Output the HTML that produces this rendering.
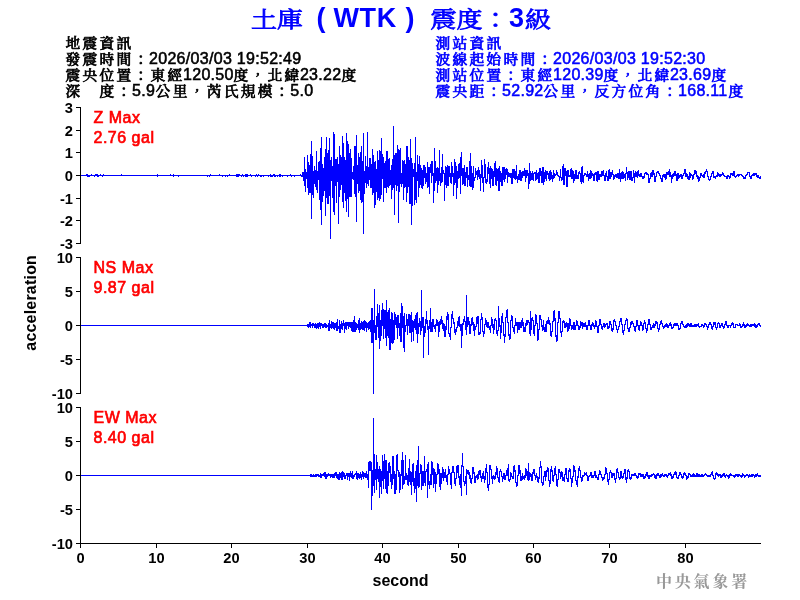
<!DOCTYPE html>
<html><head><meta charset="utf-8"><title>WTK</title><style>
html,body{margin:0;padding:0;background:#fff;width:800px;height:600px;overflow:hidden}
svg{display:block;will-change:transform}
.lt{font-family:"Liberation Sans", Arial, sans-serif;font-weight:normal;font-size:16px;letter-spacing:0.3px;stroke-width:0.55px}
.cj{font-family:"Liberation Sans", "Noto Serif CJK TC", "Noto Serif CJK SC", serif;font-weight:normal;font-size:16px;stroke-width:0.85px}
.tlt{font-family:"Liberation Sans", Arial, sans-serif;font-weight:bold;font-size:27px}
.tcj{font-family:"Liberation Sans", "Noto Serif CJK TC", "Noto Serif CJK SC", serif;font-weight:normal;font-size:26px;stroke-width:0.9px}
.tk{font-family:"Liberation Sans", Arial, sans-serif;font-weight:bold;font-size:14.67px;fill:#000}
.lb{font-family:"Liberation Sans", Arial, sans-serif;font-weight:bold;font-size:16px;fill:#000}
.rl{font-family:"Liberation Sans", Arial, sans-serif;font-weight:normal;font-size:16px;fill:#ff0000;stroke:#ff0000;stroke-width:0.65px;letter-spacing:0.5px}
.wm{font-family:"Liberation Serif", "Noto Serif CJK TC", "Noto Serif CJK SC", serif;font-weight:bold;font-size:16px;letter-spacing:2.8px}
</style></head><body>
<svg width="800" height="600" viewBox="0 0 800 600">
<rect width="800" height="600" fill="#fff"/>
<text transform="translate(251,27) scale(1,0.85)" class="tcj" fill="#0000ff" stroke="#0000ff" letter-spacing="0">土庫</text>
<text x="316.5" y="27" class="tlt" fill="#0000ff">(</text>
<text x="333.5" y="27" class="tlt" fill="#0000ff" letter-spacing="0.6">WTK</text>
<text x="405.5" y="27" class="tlt" fill="#0000ff">)</text>
<text transform="translate(430.5,27) scale(1,0.85)" class="tcj" fill="#0000ff" stroke="#0000ff" letter-spacing="0">震度：</text>
<text x="509" y="27" class="tlt" fill="#0000ff">3</text>
<text transform="translate(525,27) scale(1,0.85)" class="tcj" fill="#0000ff" stroke="#0000ff" letter-spacing="0">級</text>
<text transform="translate(65.50,47.6) scale(0.92,0.84)" class="cj" fill="#000" stroke="#000" letter-spacing="2.478">地震資訊</text>
<text transform="translate(65.50,63.6) scale(0.92,0.84)" class="cj" fill="#000" stroke="#000" letter-spacing="2.478">發震時間：</text>
<text x="149.00" y="64" class="lt" fill="#000" stroke="#000">2026/03/03 19:52:49</text>
<text transform="translate(65.50,79.6) scale(0.92,0.84)" class="cj" fill="#000" stroke="#000" letter-spacing="2.478">震央位置：東經</text>
<text x="183.00" y="80" class="lt" fill="#000" stroke="#000">120.50</text>
<text transform="translate(233.43,79.6) scale(0.92,0.84)" class="cj" fill="#000" stroke="#000" letter-spacing="2.478">度，北緯</text>
<text x="299.93" y="80" class="lt" fill="#000" stroke="#000">23.22</text>
<text transform="translate(341.46,79.6) scale(0.92,0.84)" class="cj" fill="#000" stroke="#000" letter-spacing="2.478">度</text>
<text transform="translate(65.50,95.6) scale(0.92,0.84)" class="cj" fill="#000" stroke="#000" letter-spacing="2.478">深　度：</text>
<text x="132.00" y="96" class="lt" fill="#000" stroke="#000">5.9</text>
<text transform="translate(155.74,95.6) scale(0.92,0.84)" class="cj" fill="#000" stroke="#000" letter-spacing="2.478">公里，芮氏規模：</text>
<text x="290.24" y="96" class="lt" fill="#000" stroke="#000">5.0</text>
<text transform="translate(435.50,47.6) scale(0.92,0.84)" class="cj" fill="#0000ff" stroke="#0000ff" letter-spacing="2.478">測站資訊</text>
<text transform="translate(435.50,63.6) scale(0.92,0.84)" class="cj" fill="#0000ff" stroke="#0000ff" letter-spacing="2.478">波線起始時間：</text>
<text x="553.00" y="64" class="lt" fill="#0000ff" stroke="#0000ff">2026/03/03 19:52:30</text>
<text transform="translate(435.50,79.6) scale(0.92,0.84)" class="cj" fill="#0000ff" stroke="#0000ff" letter-spacing="2.478">測站位置：東經</text>
<text x="553.00" y="80" class="lt" fill="#0000ff" stroke="#0000ff">120.39</text>
<text transform="translate(603.43,79.6) scale(0.92,0.84)" class="cj" fill="#0000ff" stroke="#0000ff" letter-spacing="2.478">度，北緯</text>
<text x="669.93" y="80" class="lt" fill="#0000ff" stroke="#0000ff">23.69</text>
<text transform="translate(711.46,79.6) scale(0.92,0.84)" class="cj" fill="#0000ff" stroke="#0000ff" letter-spacing="2.478">度</text>
<text transform="translate(435.50,95.6) scale(0.92,0.84)" class="cj" fill="#0000ff" stroke="#0000ff" letter-spacing="2.478">震央距：</text>
<text x="502.00" y="96" class="lt" fill="#0000ff" stroke="#0000ff">52.92</text>
<text transform="translate(543.53,95.6) scale(0.92,0.84)" class="cj" fill="#0000ff" stroke="#0000ff" letter-spacing="2.478">公里，反方位角：</text>
<text x="678.03" y="96" class="lt" fill="#0000ff" stroke="#0000ff">168.11</text>
<text transform="translate(728.46,95.6) scale(0.92,0.84)" class="cj" fill="#0000ff" stroke="#0000ff" letter-spacing="2.478">度</text>
<path d="M80.5 175V176M81.5 175V176M82.5 175V176M83.5 175V176M84.5 175V176M85.5 175V176M86.5 174V176M87.5 174V177M88.5 175V177M89.5 175V177M90.5 175V176M91.5 174V176M92.5 175V176M93.5 175V176M94.5 175V177M95.5 174V176M96.5 174V176M97.5 174V177M98.5 175V177M99.5 175V176M100.5 174V176M101.5 175V176M102.5 175V177M103.5 174V176M104.5 175V176M105.5 175V176M106.5 175V176M107.5 175V176M108.5 175V176M109.5 175V176M110.5 175V176M111.5 175V176M112.5 175V176M113.5 175V176M114.5 175V176M115.5 175V176M116.5 175V176M117.5 175V176M118.5 175V176M119.5 175V176M120.5 175V176M121.5 174V176M122.5 175V176M123.5 175V176M124.5 175V176M125.5 175V176M126.5 175V176M127.5 175V176M128.5 175V176M129.5 175V176M130.5 175V176M131.5 175V176M132.5 175V176M133.5 175V176M134.5 175V176M135.5 175V176M136.5 175V176M137.5 175V176M138.5 175V176M139.5 175V176M140.5 175V176M141.5 175V176M142.5 175V176M143.5 175V176M144.5 175V176M145.5 175V176M146.5 175V176M147.5 175V176M148.5 175V176M149.5 175V176M150.5 175V176M151.5 175V176M152.5 175V176M153.5 175V176M154.5 175V176M155.5 175V176M156.5 175V176M157.5 174V177M158.5 175V176M159.5 175V176M160.5 175V176M161.5 175V176M162.5 175V176M163.5 175V176M164.5 175V176M165.5 175V176M166.5 175V176M167.5 175V176M168.5 175V176M169.5 175V176M170.5 174V176M171.5 175V176M172.5 175V176M173.5 174V177M174.5 175V176M175.5 175V176M176.5 175V176M177.5 175V176M178.5 175V177M179.5 175V176M180.5 175V176M181.5 175V176M182.5 175V176M183.5 175V176M184.5 175V176M185.5 175V176M186.5 175V176M187.5 175V176M188.5 175V176M189.5 175V176M190.5 175V176M191.5 175V176M192.5 175V176M193.5 175V176M194.5 175V176M195.5 175V176M196.5 175V176M197.5 175V176M198.5 175V176M199.5 175V176M200.5 175V176M201.5 175V176M202.5 175V176M203.5 175V176M204.5 175V176M205.5 175V176M206.5 175V176M207.5 175V177M208.5 175V176M209.5 175V177M210.5 174V176M211.5 175V176M212.5 175V176M213.5 175V176M214.5 175V176M215.5 175V176M216.5 175V176M217.5 175V176M218.5 175V176M219.5 174V176M220.5 175V176M221.5 175V176M222.5 175V177M223.5 175V176M224.5 175V176M225.5 175V177M226.5 175V176M227.5 175V177M228.5 175V176M229.5 174V176M230.5 175V176M231.5 175V176M232.5 175V176M233.5 175V176M234.5 175V176M235.5 175V176M236.5 174V177M237.5 174V177M238.5 174V177M239.5 174V176M240.5 175V176M241.5 175V177M242.5 174V176M243.5 175V177M244.5 175V176M245.5 174V177M246.5 174V177M247.5 174V177M248.5 175V176M249.5 175V176M250.5 174V176M251.5 175V177M252.5 175V176M253.5 175V176M254.5 175V176M255.5 175V177M256.5 174V176M257.5 175V177M258.5 174V176M259.5 175V176M260.5 175V177M261.5 175V177M262.5 175V176M263.5 175V177M264.5 175V176M265.5 175V176M266.5 175V176M267.5 175V176M268.5 175V177M269.5 175V176M270.5 174V177M271.5 175V177M272.5 175V177M273.5 174V176M274.5 174V177M275.5 175V177M276.5 175V176M277.5 175V177M278.5 175V176M279.5 174V177M280.5 174V177M281.5 175V176M282.5 175V177M283.5 175V176M284.5 175V176M285.5 175V176M286.5 175V176M287.5 175V177M288.5 175V176M289.5 175V176M290.5 174V176M291.5 175V177M292.5 175V176M293.5 175V176M294.5 175V177M295.5 175V176M296.5 175V176M297.5 175V176M298.5 175V176M299.5 175V176M300.5 174V176M301.5 175V177M302.5 172V177M303.5 172V181M304.5 157V186M305.5 169V192M306.5 172V179M307.5 155V188M308.5 162V195M309.5 165V193M310.5 154V193M311.5 141V219M312.5 156V195M313.5 171V198M314.5 166V184M315.5 170V187M316.5 151V190M317.5 171V193M318.5 162V180M319.5 161V200M320.5 148V210M321.5 137V225M322.5 164V202M323.5 168V196M324.5 157V191M325.5 149V216M326.5 137V198M327.5 153V204M328.5 150V204M329.5 138V196M330.5 160V239M331.5 157V181M332.5 166V198M333.5 132V212M334.5 134V215M335.5 159V186M336.5 159V203M337.5 157V182M338.5 164V224M339.5 146V197M340.5 155V190M341.5 157V185M342.5 136V202M343.5 143V208M344.5 157V193M345.5 160V201M346.5 133V212M347.5 141V199M348.5 144V217M349.5 153V197M350.5 149V197M351.5 158V197M352.5 172V179M353.5 166V180M354.5 146V194M355.5 146V197M356.5 135V222M357.5 165V184M358.5 153V193M359.5 157V191M360.5 152V200M361.5 146V203M362.5 161V202M363.5 133V234M364.5 171V194M365.5 156V183M366.5 166V188M367.5 132V184M368.5 167V186M369.5 158V180M370.5 158V188M371.5 164V188M372.5 149V195M373.5 155V193M374.5 162V208M375.5 161V205M376.5 169V192M377.5 151V200M378.5 160V198M379.5 150V201M380.5 151V199M381.5 138V195M382.5 154V179M383.5 157V202M384.5 163V188M385.5 161V188M386.5 151V193M387.5 151V187M388.5 159V188M389.5 158V186M390.5 170V185M391.5 165V199M392.5 159V190M393.5 126V188M394.5 155V215M395.5 153V185M396.5 153V191M397.5 145V186M398.5 149V223M399.5 150V192M400.5 148V184M401.5 173V187M402.5 160V184M403.5 161V200M404.5 160V188M405.5 164V187M406.5 146V202M407.5 146V193M408.5 157V187M409.5 160V204M410.5 139V204M411.5 158V225M412.5 163V206M413.5 169V177M414.5 163V205M415.5 137V200M416.5 172V203M417.5 155V181M418.5 164V197M419.5 156V188M420.5 165V185M421.5 168V188M422.5 170V189M423.5 165V186M424.5 165V178M425.5 167V184M426.5 173V182M427.5 162V188M428.5 167V187M429.5 167V194M430.5 164V173M431.5 161V183M432.5 161V176M433.5 173V203M434.5 148V191M435.5 161V183M436.5 168V181M437.5 167V193M438.5 168V185M439.5 150V181M440.5 173V186M441.5 167V183M442.5 154V182M443.5 170V174M444.5 173V201M445.5 166V185M446.5 167V188M447.5 165V186M448.5 166V186M449.5 166V177M450.5 173V183M451.5 162V184M452.5 166V177M453.5 173V196M454.5 159V185M455.5 162V183M456.5 166V199M457.5 171V188M458.5 164V179M459.5 163V178M460.5 157V194M461.5 152V176M462.5 168V185M463.5 168V184M464.5 165V186M465.5 172V186M466.5 167V178M467.5 167V187M468.5 175V180M469.5 161V186M470.5 153V187M471.5 166V187M472.5 173V190M473.5 166V188M474.5 177V181M475.5 168V178M476.5 171V175M477.5 170V180M478.5 167V177M479.5 170V179M480.5 174V191M481.5 160V178M482.5 165V183M483.5 177V192M484.5 159V178M485.5 164V183M486.5 179V184M487.5 167V182M488.5 162V174M489.5 168V184M490.5 166V188M491.5 168V179M492.5 169V186M493.5 171V186M494.5 163V177M495.5 161V185M496.5 168V186M497.5 169V181M498.5 168V191M499.5 166V191M500.5 171V182M501.5 173V186M502.5 167V186M503.5 167V180M504.5 167V182M505.5 169V179M506.5 168V175M507.5 169V183M508.5 172V177M509.5 173V177M510.5 173V178M511.5 173V184M512.5 169V184M513.5 169V178M514.5 169V179M515.5 171V180M516.5 165V179M517.5 176V183M518.5 174V180M519.5 170V180M520.5 170V181M521.5 172V181M522.5 171V178M523.5 171V176M524.5 168V176M525.5 170V182M526.5 170V178M527.5 170V176M528.5 173V189M529.5 163V184M530.5 171V181M531.5 173V180M532.5 171V180M533.5 173V181M534.5 172V174M535.5 172V181M536.5 170V180M537.5 173V179M538.5 172V183M539.5 168V183M540.5 168V176M541.5 171V183M542.5 167V183M543.5 167V185M544.5 172V182M545.5 170V179M546.5 171V181M547.5 171V175M548.5 173V179M549.5 171V181M550.5 170V180M551.5 172V179M552.5 175V182M553.5 170V179M554.5 173V178M555.5 174V176M556.5 170V175M557.5 172V176M558.5 175V177M559.5 176V181M560.5 169V178M561.5 177V181M562.5 166V180M563.5 164V185M564.5 168V185M565.5 168V176M566.5 171V187M567.5 170V187M568.5 170V177M569.5 175V177M570.5 169V177M571.5 168V179M572.5 170V179M573.5 171V183M574.5 174V181M575.5 170V179M576.5 170V179M577.5 175V179M578.5 172V179M579.5 171V174M580.5 173V182M581.5 167V184M582.5 166V182M583.5 175V183M584.5 173V176M585.5 173V175M586.5 174V177M587.5 171V177M588.5 174V181M589.5 173V179M590.5 170V179M591.5 171V178M592.5 173V176M593.5 174V181M594.5 173V181M595.5 172V175M596.5 172V181M597.5 171V182M598.5 171V180M599.5 174V180M600.5 174V177M601.5 171V177M602.5 171V176M603.5 170V176M604.5 175V181M605.5 173V181M606.5 171V177M607.5 176V181M608.5 170V181M609.5 169V179M610.5 172V179M611.5 172V177M612.5 170V175M613.5 174V180M614.5 175V179M615.5 174V177M616.5 174V178M617.5 173V178M618.5 173V179M619.5 169V179M620.5 173V182M621.5 172V179M622.5 171V179M623.5 172V179M624.5 174V178M625.5 173V181M626.5 167V174M627.5 172V180M628.5 171V178M629.5 171V180M630.5 171V180M631.5 171V181M632.5 177V181M633.5 170V178M634.5 173V183M635.5 171V177M636.5 172V177M637.5 171V178M638.5 170V176M639.5 174V177M640.5 173V177M641.5 173V177M642.5 176V179M643.5 176V179M644.5 173V178M645.5 172V174M646.5 172V175M647.5 173V175M648.5 174V183M649.5 178V183M650.5 173V179M651.5 172V177M652.5 170V177M653.5 170V175M654.5 173V182M655.5 176V182M656.5 172V177M657.5 171V173M658.5 171V174M659.5 173V176M660.5 175V179M661.5 178V182M662.5 175V182M663.5 174V177M664.5 174V178M665.5 174V180M666.5 172V179M667.5 172V175M668.5 171V175M669.5 169V177M670.5 172V177M671.5 175V183M672.5 174V179M673.5 173V177M674.5 171V176M675.5 171V176M676.5 174V181M677.5 173V181M678.5 173V179M679.5 175V178M680.5 174V177M681.5 174V179M682.5 175V179M683.5 173V176M684.5 169V174M685.5 169V177M686.5 173V177M687.5 174V179M688.5 176V180M689.5 172V180M690.5 173V178M691.5 174V176M692.5 175V180M693.5 174V179M694.5 170V175M695.5 170V174M696.5 171V177M697.5 175V179M698.5 176V182M699.5 177V181M700.5 173V178M701.5 173V176M702.5 175V177M703.5 174V178M704.5 172V178M705.5 171V174M706.5 169V172M707.5 171V177M708.5 176V180M709.5 179V181M710.5 176V180M711.5 173V177M712.5 171V174M713.5 171V178M714.5 176V178M715.5 176V179M716.5 175V177M717.5 172V177M718.5 173V176M719.5 174V177M720.5 174V177M721.5 174V176M722.5 172V175M723.5 173V176M724.5 175V177M725.5 176V177M726.5 176V179M727.5 175V179M728.5 175V177M729.5 176V179M730.5 173V178M731.5 173V175M732.5 173V176M733.5 171V176M734.5 171V177M735.5 176V178M736.5 175V177M737.5 174V176M738.5 174V177M739.5 174V176M740.5 174V175M741.5 174V176M742.5 175V177M743.5 176V179M744.5 177V179M745.5 175V179M746.5 174V176M747.5 172V175M748.5 172V173M749.5 172V177M750.5 176V179M751.5 175V179M752.5 174V176M753.5 173V176M754.5 173V176M755.5 173V175M756.5 173V177M757.5 175V178M758.5 175V178M759.5 177V179M760.5 176V179" stroke="#0000ff" stroke-width="1" fill="none" shape-rendering="crispEdges"/>
<path d="M80.5 325V326M81.5 325V326M82.5 325V326M83.5 325V326M84.5 325V326M85.5 325V326M86.5 325V326M87.5 325V326M88.5 325V326M89.5 325V326M90.5 325V326M91.5 325V326M92.5 325V326M93.5 325V326M94.5 325V326M95.5 325V326M96.5 325V326M97.5 325V326M98.5 325V326M99.5 325V326M100.5 325V326M101.5 325V326M102.5 325V326M103.5 325V326M104.5 325V326M105.5 325V326M106.5 325V326M107.5 325V326M108.5 325V326M109.5 325V326M110.5 325V326M111.5 325V326M112.5 325V326M113.5 325V326M114.5 325V326M115.5 325V326M116.5 325V326M117.5 325V326M118.5 325V326M119.5 325V326M120.5 325V326M121.5 325V326M122.5 325V326M123.5 325V326M124.5 325V326M125.5 325V326M126.5 325V326M127.5 325V326M128.5 325V326M129.5 325V326M130.5 325V326M131.5 325V326M132.5 325V326M133.5 325V326M134.5 325V326M135.5 325V326M136.5 325V326M137.5 325V326M138.5 325V326M139.5 325V326M140.5 325V326M141.5 325V326M142.5 325V326M143.5 325V326M144.5 325V326M145.5 325V326M146.5 325V326M147.5 325V326M148.5 325V326M149.5 325V326M150.5 325V326M151.5 325V326M152.5 325V326M153.5 325V326M154.5 325V326M155.5 325V326M156.5 325V326M157.5 325V326M158.5 325V326M159.5 325V326M160.5 325V326M161.5 325V326M162.5 325V326M163.5 325V326M164.5 325V326M165.5 325V326M166.5 325V326M167.5 325V326M168.5 325V326M169.5 325V326M170.5 325V326M171.5 325V326M172.5 325V326M173.5 325V326M174.5 325V326M175.5 325V326M176.5 325V326M177.5 325V326M178.5 325V326M179.5 325V326M180.5 325V326M181.5 325V326M182.5 325V326M183.5 325V326M184.5 325V326M185.5 325V326M186.5 325V326M187.5 325V326M188.5 325V326M189.5 325V326M190.5 325V326M191.5 325V326M192.5 325V326M193.5 325V326M194.5 325V326M195.5 325V326M196.5 325V326M197.5 325V326M198.5 325V326M199.5 325V326M200.5 325V326M201.5 325V326M202.5 325V326M203.5 325V326M204.5 325V326M205.5 325V326M206.5 325V326M207.5 325V326M208.5 325V326M209.5 325V326M210.5 325V326M211.5 325V326M212.5 325V326M213.5 325V326M214.5 325V326M215.5 325V326M216.5 325V326M217.5 325V326M218.5 325V326M219.5 325V326M220.5 325V326M221.5 325V326M222.5 325V326M223.5 325V326M224.5 325V326M225.5 325V326M226.5 325V326M227.5 325V326M228.5 325V326M229.5 325V326M230.5 325V326M231.5 325V326M232.5 325V326M233.5 325V326M234.5 325V326M235.5 325V326M236.5 325V326M237.5 325V326M238.5 325V326M239.5 325V326M240.5 325V326M241.5 325V326M242.5 325V326M243.5 325V326M244.5 325V326M245.5 325V326M246.5 325V326M247.5 325V326M248.5 325V326M249.5 325V326M250.5 325V326M251.5 325V326M252.5 325V326M253.5 325V326M254.5 325V326M255.5 325V326M256.5 325V326M257.5 325V326M258.5 325V326M259.5 325V326M260.5 325V326M261.5 325V326M262.5 325V326M263.5 325V326M264.5 325V326M265.5 325V326M266.5 325V326M267.5 325V326M268.5 325V326M269.5 325V326M270.5 325V326M271.5 325V326M272.5 325V326M273.5 325V326M274.5 325V326M275.5 325V326M276.5 325V326M277.5 325V326M278.5 325V326M279.5 325V326M280.5 325V326M281.5 325V326M282.5 325V326M283.5 325V326M284.5 325V326M285.5 325V326M286.5 325V326M287.5 325V326M288.5 325V326M289.5 325V326M290.5 325V326M291.5 325V326M292.5 325V326M293.5 325V326M294.5 325V326M295.5 325V326M296.5 325V326M297.5 325V326M298.5 325V326M299.5 325V326M300.5 325V326M301.5 325V326M302.5 325V326M303.5 325V326M304.5 325V326M305.5 325V326M306.5 325V326M307.5 324V327M308.5 324V328M309.5 322V327M310.5 322V328M311.5 324V326M312.5 323V328M313.5 323V326M314.5 324V328M315.5 323V328M316.5 324V329M317.5 323V328M318.5 323V329M319.5 322V327M320.5 323V329M321.5 323V326M322.5 324V328M323.5 324V328M324.5 323V327M325.5 323V328M326.5 324V328M327.5 325V327M328.5 323V331M329.5 320V331M330.5 324V328M331.5 321V329M332.5 322V328M333.5 322V329M334.5 323V330M335.5 323V328M336.5 322V331M337.5 319V331M338.5 326V329M339.5 320V333M340.5 324V333M341.5 321V329M342.5 323V330M343.5 320V326M344.5 323V333M345.5 322V329M346.5 322V330M347.5 322V326M348.5 322V329M349.5 322V327M350.5 322V328M351.5 322V331M352.5 322V332M353.5 320V332M354.5 316V332M355.5 322V332M356.5 323V330M357.5 324V328M358.5 320V330M359.5 318V333M360.5 323V330M361.5 321V329M362.5 322V330M363.5 321V330M364.5 320V331M365.5 321V328M366.5 322V332M367.5 323V328M368.5 322V330M369.5 321V329M370.5 320V332M371.5 308V343M372.5 308V343M373.5 320V394M374.5 289V333M375.5 325V340M376.5 316V340M377.5 304V327M378.5 313V338M379.5 305V349M380.5 320V341M381.5 310V336M382.5 303V326M383.5 309V339M384.5 310V329M385.5 310V338M386.5 300V346M387.5 312V336M388.5 310V338M389.5 308V350M390.5 319V350M391.5 312V343M392.5 313V344M393.5 320V343M394.5 312V340M395.5 314V325M396.5 317V328M397.5 315V339M398.5 315V328M399.5 323V336M400.5 313V342M401.5 303V342M402.5 306V328M403.5 316V348M404.5 313V352M405.5 325V332M406.5 314V326M407.5 319V335M408.5 314V326M409.5 314V333M410.5 315V333M411.5 312V342M412.5 320V332M413.5 321V341M414.5 319V328M415.5 315V330M416.5 313V334M417.5 312V343M418.5 323V334M419.5 318V327M420.5 321V335M421.5 290V331M422.5 317V328M423.5 317V358M424.5 326V337M425.5 319V333M426.5 311V324M427.5 320V330M428.5 326V355M429.5 320V329M430.5 308V332M431.5 322V332M432.5 319V332M433.5 319V327M434.5 325V329M435.5 324V332M436.5 319V326M437.5 320V326M438.5 322V337M439.5 321V332M440.5 319V325M441.5 316V324M442.5 320V329M443.5 323V331M444.5 324V337M445.5 326V337M446.5 316V330M447.5 312V320M448.5 314V334M449.5 333V337M450.5 327V340M451.5 314V328M452.5 311V319M453.5 318V324M454.5 322V333M455.5 329V335M456.5 327V332M457.5 321V328M458.5 317V326M459.5 316V327M460.5 324V331M461.5 324V348M462.5 323V336M463.5 319V325M464.5 316V322M465.5 321V330M466.5 295V335M467.5 317V327M468.5 317V325M469.5 321V334M470.5 324V334M471.5 318V326M472.5 317V325M473.5 322V331M474.5 324V336M475.5 326V330M476.5 317V327M477.5 316V324M478.5 316V335M479.5 332V335M480.5 319V334M481.5 313V320M482.5 317V332M483.5 331V337M484.5 324V334M485.5 318V325M486.5 320V327M487.5 322V328M488.5 322V328M489.5 326V330M490.5 325V333M491.5 317V326M492.5 319V328M493.5 324V334M494.5 319V330M495.5 318V321M496.5 320V334M497.5 330V336M498.5 306V331M499.5 318V327M500.5 325V339M501.5 316V333M502.5 313V323M503.5 322V336M504.5 334V343M505.5 317V337M506.5 310V318M507.5 309V323M508.5 322V336M509.5 334V340M510.5 320V339M511.5 315V321M512.5 316V328M513.5 327V332M514.5 325V334M515.5 318V326M516.5 322V326M517.5 322V333M518.5 322V330M519.5 322V330M520.5 322V328M521.5 320V328M522.5 318V326M523.5 322V332M524.5 327V332M525.5 323V332M526.5 320V326M527.5 320V325M528.5 320V323M529.5 322V334M530.5 311V336M531.5 318V330M532.5 317V321M533.5 320V334M534.5 325V336M535.5 314V326M536.5 315V324M537.5 323V341M538.5 329V340M539.5 315V330M540.5 315V320M541.5 319V327M542.5 325V331M543.5 320V330M544.5 327V332M545.5 324V332M546.5 321V332M547.5 320V324M548.5 317V324M549.5 320V325M550.5 323V336M551.5 331V337M552.5 321V332M553.5 311V322M554.5 310V321M555.5 318V337M556.5 335V342M557.5 322V341M558.5 311V323M559.5 311V319M560.5 318V333M561.5 331V337M562.5 321V332M563.5 320V323M564.5 321V328M565.5 323V328M566.5 322V327M567.5 323V332M568.5 323V331M569.5 318V329M570.5 319V326M571.5 325V330M572.5 325V329M573.5 322V330M574.5 322V330M575.5 325V330M576.5 320V326M577.5 321V326M578.5 325V330M579.5 326V330M580.5 321V328M581.5 322V326M582.5 322V329M583.5 323V327M584.5 323V327M585.5 322V327M586.5 325V330M587.5 325V330M588.5 320V326M589.5 320V326M590.5 325V330M591.5 324V330M592.5 322V326M593.5 323V327M594.5 325V329M595.5 320V327M596.5 321V327M597.5 326V333M598.5 325V333M599.5 319V326M600.5 319V325M601.5 324V329M602.5 326V330M603.5 323V327M604.5 323V328M605.5 324V327M606.5 323V325M607.5 323V329M608.5 326V329M609.5 321V328M610.5 321V325M611.5 324V331M612.5 328V332M613.5 320V330M614.5 319V322M615.5 321V326M616.5 325V330M617.5 329V333M618.5 326V330M619.5 321V327M620.5 318V322M621.5 318V325M622.5 324V333M623.5 330V335M624.5 324V331M625.5 320V325M626.5 318V321M627.5 319V329M628.5 328V332M629.5 327V332M630.5 322V328M631.5 321V325M632.5 321V324M633.5 323V327M634.5 326V331M635.5 326V332M636.5 320V327M637.5 320V326M638.5 325V330M639.5 325V331M640.5 321V326M641.5 322V326M642.5 325V331M643.5 323V330M644.5 320V324M645.5 322V329M646.5 328V333M647.5 324V331M648.5 319V325M649.5 319V325M650.5 324V330M651.5 327V330M652.5 325V328M653.5 323V328M654.5 324V328M655.5 321V326M656.5 321V324M657.5 322V329M658.5 328V332M659.5 324V330M660.5 321V325M661.5 320V324M662.5 323V327M663.5 326V329M664.5 325V328M665.5 324V327M666.5 323V327M667.5 324V328M668.5 325V328M669.5 323V326M670.5 322V326M671.5 324V329M672.5 327V329M673.5 324V328M674.5 323V326M675.5 323V326M676.5 323V326M677.5 323V326M678.5 325V330M679.5 328V330M680.5 323V329M681.5 321V324M682.5 321V325M683.5 324V327M684.5 326V328M685.5 325V328M686.5 324V328M687.5 323V327M688.5 323V326M689.5 324V327M690.5 323V327M691.5 323V327M692.5 325V327M693.5 325V327M694.5 324V327M695.5 324V327M696.5 324V327M697.5 324V326M698.5 323V327M699.5 326V328M700.5 326V327M701.5 324V327M702.5 324V326M703.5 325V328M704.5 323V327M705.5 323V325M706.5 324V327M707.5 326V330M708.5 324V328M709.5 322V325M710.5 322V325M711.5 324V329M712.5 326V330M713.5 322V327M714.5 322V325M715.5 322V328M716.5 327V330M717.5 323V328M718.5 322V324M719.5 323V328M720.5 325V328M721.5 323V326M722.5 323V327M723.5 326V329M724.5 324V328M725.5 321V325M726.5 321V326M727.5 325V328M728.5 325V328M729.5 325V326M730.5 325V328M731.5 323V326M732.5 322V325M733.5 323V328M734.5 327V328M735.5 324V328M736.5 324V325M737.5 324V326M738.5 325V326M739.5 323V326M740.5 324V328M741.5 326V328M742.5 324V327M743.5 322V326M744.5 324V328M745.5 325V328M746.5 324V327M747.5 323V326M748.5 324V326M749.5 325V327M750.5 324V327M751.5 324V327M752.5 324V326M753.5 324V326M754.5 323V327M755.5 324V328M756.5 325V328M757.5 324V327M758.5 323V325M759.5 323V326M760.5 325V327" stroke="#0000ff" stroke-width="1" fill="none" shape-rendering="crispEdges"/>
<path d="M80.5 475V476M81.5 475V476M82.5 475V476M83.5 475V476M84.5 475V476M85.5 475V476M86.5 475V476M87.5 475V476M88.5 475V476M89.5 475V476M90.5 475V476M91.5 475V476M92.5 475V476M93.5 475V476M94.5 475V476M95.5 475V476M96.5 475V476M97.5 475V476M98.5 475V476M99.5 475V476M100.5 475V476M101.5 475V476M102.5 475V476M103.5 475V476M104.5 475V476M105.5 475V476M106.5 475V476M107.5 475V476M108.5 475V476M109.5 475V476M110.5 475V476M111.5 475V476M112.5 475V476M113.5 475V476M114.5 475V476M115.5 475V476M116.5 475V476M117.5 475V476M118.5 475V476M119.5 475V476M120.5 475V476M121.5 475V476M122.5 475V476M123.5 475V476M124.5 475V476M125.5 475V476M126.5 475V476M127.5 475V476M128.5 475V476M129.5 475V476M130.5 475V476M131.5 475V476M132.5 475V476M133.5 475V476M134.5 475V476M135.5 475V476M136.5 475V476M137.5 475V476M138.5 475V476M139.5 475V476M140.5 475V476M141.5 475V476M142.5 475V476M143.5 475V476M144.5 475V476M145.5 475V476M146.5 475V476M147.5 475V476M148.5 475V476M149.5 475V476M150.5 475V476M151.5 475V476M152.5 475V476M153.5 475V476M154.5 475V476M155.5 475V476M156.5 475V476M157.5 475V476M158.5 475V476M159.5 475V476M160.5 475V476M161.5 475V476M162.5 475V476M163.5 475V476M164.5 475V476M165.5 475V476M166.5 475V476M167.5 475V476M168.5 475V476M169.5 475V476M170.5 475V476M171.5 475V476M172.5 475V476M173.5 475V476M174.5 475V476M175.5 475V476M176.5 475V476M177.5 475V476M178.5 475V476M179.5 475V476M180.5 475V476M181.5 475V476M182.5 475V476M183.5 475V476M184.5 475V476M185.5 475V476M186.5 475V476M187.5 475V476M188.5 475V476M189.5 475V476M190.5 475V476M191.5 475V476M192.5 475V476M193.5 475V476M194.5 475V476M195.5 475V476M196.5 475V476M197.5 475V476M198.5 475V476M199.5 475V476M200.5 475V476M201.5 475V476M202.5 475V476M203.5 475V476M204.5 475V476M205.5 475V476M206.5 475V476M207.5 475V476M208.5 475V476M209.5 475V476M210.5 475V476M211.5 475V476M212.5 475V476M213.5 475V476M214.5 475V476M215.5 475V476M216.5 475V476M217.5 475V476M218.5 475V476M219.5 475V476M220.5 475V476M221.5 475V476M222.5 475V476M223.5 475V476M224.5 475V476M225.5 475V476M226.5 475V476M227.5 475V476M228.5 475V476M229.5 475V476M230.5 475V476M231.5 475V476M232.5 475V476M233.5 475V476M234.5 475V476M235.5 475V476M236.5 475V476M237.5 475V476M238.5 475V476M239.5 475V476M240.5 475V476M241.5 475V476M242.5 475V476M243.5 475V476M244.5 475V476M245.5 475V476M246.5 475V476M247.5 475V476M248.5 475V476M249.5 475V476M250.5 475V476M251.5 475V476M252.5 475V476M253.5 475V476M254.5 475V476M255.5 475V476M256.5 475V476M257.5 475V476M258.5 475V476M259.5 475V476M260.5 475V476M261.5 475V476M262.5 475V476M263.5 475V476M264.5 475V476M265.5 475V476M266.5 475V476M267.5 475V476M268.5 475V476M269.5 475V476M270.5 475V476M271.5 475V476M272.5 475V476M273.5 475V476M274.5 475V476M275.5 475V476M276.5 475V476M277.5 475V476M278.5 475V476M279.5 475V476M280.5 475V476M281.5 475V476M282.5 475V476M283.5 475V476M284.5 475V476M285.5 475V476M286.5 475V476M287.5 475V476M288.5 475V476M289.5 475V476M290.5 475V476M291.5 475V476M292.5 475V476M293.5 475V476M294.5 475V476M295.5 475V476M296.5 475V476M297.5 475V476M298.5 475V476M299.5 475V476M300.5 475V476M301.5 475V476M302.5 475V476M303.5 475V476M304.5 475V476M305.5 475V476M306.5 475V476M307.5 475V476M308.5 475V476M309.5 475V476M310.5 474V477M311.5 474V477M312.5 475V477M313.5 474V477M314.5 475V477M315.5 474V477M316.5 474V477M317.5 474V476M318.5 474V477M319.5 475V477M320.5 473V478M321.5 474V478M322.5 474V476M323.5 473V476M324.5 472V477M325.5 472V479M326.5 474V479M327.5 474V477M328.5 473V476M329.5 474V476M330.5 474V478M331.5 474V477M332.5 474V478M333.5 474V478M334.5 473V478M335.5 472V476M336.5 472V478M337.5 474V479M338.5 474V480M339.5 472V480M340.5 473V478M341.5 472V480M342.5 471V480M343.5 472V477M344.5 473V479M345.5 475V479M346.5 473V476M347.5 473V480M348.5 473V477M349.5 473V481M350.5 471V477M351.5 473V478M352.5 471V479M353.5 475V479M354.5 474V477M355.5 473V475M356.5 471V479M357.5 473V480M358.5 473V478M359.5 474V479M360.5 472V478M361.5 474V480M362.5 471V477M363.5 472V479M364.5 473V477M365.5 473V478M366.5 471V478M367.5 474V480M368.5 462V488M369.5 461V471M370.5 461V471M371.5 462V510M372.5 470V496M373.5 418V486M374.5 454V493M375.5 469V480M376.5 455V490M377.5 462V479M378.5 469V482M379.5 466V498M380.5 469V487M381.5 471V494M382.5 455V481M383.5 461V489M384.5 454V479M385.5 460V489M386.5 460V493M387.5 471V494M388.5 463V486M389.5 462V473M390.5 466V482M391.5 474V489M392.5 456V485M393.5 456V479M394.5 471V494M395.5 474V494M396.5 455V490M397.5 454V471M398.5 470V477M399.5 472V493M400.5 474V490M401.5 460V476M402.5 452V489M403.5 460V485M404.5 476V484M405.5 455V480M406.5 473V480M407.5 475V485M408.5 468V486M409.5 459V482M410.5 471V485M411.5 472V495M412.5 464V482M413.5 463V486M414.5 478V493M415.5 471V489M416.5 465V502M417.5 460V486M418.5 446V488M419.5 473V487M420.5 464V474M421.5 465V490M422.5 471V486M423.5 471V486M424.5 456V483M425.5 471V486M426.5 469V472M427.5 464V498M428.5 462V485M429.5 481V489M430.5 474V485M431.5 461V485M432.5 462V475M433.5 468V488M434.5 469V484M435.5 472V492M436.5 474V484M437.5 463V475M438.5 464V474M439.5 469V487M440.5 473V490M441.5 473V484M442.5 467V478M443.5 469V481M444.5 472V478M445.5 469V478M446.5 475V482M447.5 474V485M448.5 466V475M449.5 469V474M450.5 473V485M451.5 472V489M452.5 466V473M453.5 466V473M454.5 472V484M455.5 478V486M456.5 466V479M457.5 465V473M458.5 465V478M459.5 476V485M460.5 474V488M461.5 465V496M462.5 453V467M463.5 466V482M464.5 481V486M465.5 476V484M466.5 469V495M467.5 470V474M468.5 470V475M469.5 472V479M470.5 475V483M471.5 478V484M472.5 467V479M473.5 467V474M474.5 472V483M475.5 476V483M476.5 475V478M477.5 474V480M478.5 471V479M479.5 470V475M480.5 470V478M481.5 476V482M482.5 473V479M483.5 471V479M484.5 476V483M485.5 468V480M486.5 464V473M487.5 472V488M488.5 484V491M489.5 465V485M490.5 465V470M491.5 469V479M492.5 476V484M493.5 475V479M494.5 476V480M495.5 472V479M496.5 466V475M497.5 468V478M498.5 477V482M499.5 471V483M500.5 469V472M501.5 471V477M502.5 476V482M503.5 473V479M504.5 473V480M505.5 475V480M506.5 470V476M507.5 468V476M508.5 464V481M509.5 479V482M510.5 472V480M511.5 473V477M512.5 476V479M513.5 466V479M514.5 465V472M515.5 470V483M516.5 482V487M517.5 475V486M518.5 465V476M519.5 465V474M520.5 470V481M521.5 476V481M522.5 473V480M523.5 476V479M524.5 475V480M525.5 468V478M526.5 469V476M527.5 471V480M528.5 463V481M529.5 472V480M530.5 473V477M531.5 474V481M532.5 472V481M533.5 469V474M534.5 469V476M535.5 475V480M536.5 473V478M537.5 476V482M538.5 477V483M539.5 467V479M540.5 461V468M541.5 466V483M542.5 482V486M543.5 476V485M544.5 471V477M545.5 471V481M546.5 470V477M547.5 467V472M548.5 468V481M549.5 480V487M550.5 469V484M551.5 466V472M552.5 470V481M553.5 475V482M554.5 468V476M555.5 466V475M556.5 474V486M557.5 479V487M558.5 469V480M559.5 469V473M560.5 472V479M561.5 471V477M562.5 472V481M563.5 477V481M564.5 474V482M565.5 468V475M566.5 468V479M567.5 478V482M568.5 470V482M569.5 468V472M570.5 469V479M571.5 478V487M572.5 476V483M573.5 465V477M574.5 466V472M575.5 470V481M576.5 480V485M577.5 476V487M578.5 468V478M579.5 466V471M580.5 470V478M581.5 477V482M582.5 475V481M583.5 475V477M584.5 472V476M585.5 473V475M586.5 472V476M587.5 475V481M588.5 476V481M589.5 475V477M590.5 472V476M591.5 472V478M592.5 475V478M593.5 475V478M594.5 471V476M595.5 471V478M596.5 475V478M597.5 477V480M598.5 474V480M599.5 470V475M600.5 471V475M601.5 474V478M602.5 477V481M603.5 477V480M604.5 474V479M605.5 467V475M606.5 468V474M607.5 473V482M608.5 479V485M609.5 472V480M610.5 470V473M611.5 472V478M612.5 473V478M613.5 473V476M614.5 473V480M615.5 478V483M616.5 469V479M617.5 468V473M618.5 472V478M619.5 477V480M620.5 471V479M621.5 471V478M622.5 476V479M623.5 473V478M624.5 469V474M625.5 469V480M626.5 477V483M627.5 470V479M628.5 469V472M629.5 471V479M630.5 477V480M631.5 474V479M632.5 474V476M633.5 474V476M634.5 473V476M635.5 473V476M636.5 475V478M637.5 476V479M638.5 473V478M639.5 473V475M640.5 473V477M641.5 474V477M642.5 474V477M643.5 474V479M644.5 476V479M645.5 474V478M646.5 472V476M647.5 472V477M648.5 475V479M649.5 475V479M650.5 475V477M651.5 474V477M652.5 474V476M653.5 473V475M654.5 474V478M655.5 475V479M656.5 474V479M657.5 473V476M658.5 473V476M659.5 475V478M660.5 474V478M661.5 474V477M662.5 473V476M663.5 475V477M664.5 474V477M665.5 474V476M666.5 474V477M667.5 475V478M668.5 473V476M669.5 473V475M670.5 472V476M671.5 474V479M672.5 476V479M673.5 474V478M674.5 472V475M675.5 471V475M676.5 472V478M677.5 477V479M678.5 475V479M679.5 472V476M680.5 472V475M681.5 474V478M682.5 476V479M683.5 473V478M684.5 472V475M685.5 473V476M686.5 475V480M687.5 476V479M688.5 473V478M689.5 473V475M690.5 474V477M691.5 475V477M692.5 474V477M693.5 473V477M694.5 474V477M695.5 475V477M696.5 473V477M697.5 473V477M698.5 474V477M699.5 474V477M700.5 475V477M701.5 474V477M702.5 474V477M703.5 475V477M704.5 474V476M705.5 473V475M706.5 474V476M707.5 475V477M708.5 475V477M709.5 475V477M710.5 474V477M711.5 472V475M712.5 471V476M713.5 475V479M714.5 478V480M715.5 473V479M716.5 472V475M717.5 473V476M718.5 474V477M719.5 474V476M720.5 474V478M721.5 475V478M722.5 474V477M723.5 473V476M724.5 473V477M725.5 475V478M726.5 474V476M727.5 475V477M728.5 475V479M729.5 474V478M730.5 473V476M731.5 474V476M732.5 475V476M733.5 475V477M734.5 475V478M735.5 474V477M736.5 474V476M737.5 474V477M738.5 474V477M739.5 474V476M740.5 475V477M741.5 475V478M742.5 473V477M743.5 474V476M744.5 475V478M745.5 475V477M746.5 474V476M747.5 474V476M748.5 475V478M749.5 474V477M750.5 475V477M751.5 474V477M752.5 474V477M753.5 474V476M754.5 475V478M755.5 474V477M756.5 474V477M757.5 473V476M758.5 475V477M759.5 475V477M760.5 475V477" stroke="#0000ff" stroke-width="1" fill="none" shape-rendering="crispEdges"/>
<rect x="80" y="107" width="1" height="137" fill="#000"/>
<rect x="76" y="107" width="4" height="1" fill="#000"/>
<text x="73" y="112.5" class="tk" text-anchor="end">3</text>
<rect x="76" y="130" width="4" height="1" fill="#000"/>
<text x="73" y="135.5" class="tk" text-anchor="end">2</text>
<rect x="76" y="152" width="4" height="1" fill="#000"/>
<text x="73" y="157.5" class="tk" text-anchor="end">1</text>
<rect x="76" y="175" width="4" height="1" fill="#000"/>
<text x="73" y="180.5" class="tk" text-anchor="end">0</text>
<rect x="76" y="198" width="4" height="1" fill="#000"/>
<text x="73" y="203.5" class="tk" text-anchor="end">-1</text>
<rect x="76" y="220" width="4" height="1" fill="#000"/>
<text x="73" y="225.5" class="tk" text-anchor="end">-2</text>
<rect x="76" y="243" width="4" height="1" fill="#000"/>
<text x="73" y="248.5" class="tk" text-anchor="end">-3</text>
<rect x="80" y="257" width="1" height="137" fill="#000"/>
<rect x="76" y="257" width="4" height="1" fill="#000"/>
<text x="73" y="262.5" class="tk" text-anchor="end">10</text>
<rect x="76" y="291" width="4" height="1" fill="#000"/>
<text x="73" y="296.5" class="tk" text-anchor="end">5</text>
<rect x="76" y="325" width="4" height="1" fill="#000"/>
<text x="73" y="330.5" class="tk" text-anchor="end">0</text>
<rect x="76" y="359" width="4" height="1" fill="#000"/>
<text x="73" y="364.5" class="tk" text-anchor="end">-5</text>
<rect x="76" y="393" width="4" height="1" fill="#000"/>
<text x="73" y="398.5" class="tk" text-anchor="end">-10</text>
<rect x="80" y="407" width="1" height="137" fill="#000"/>
<rect x="76" y="407" width="4" height="1" fill="#000"/>
<text x="73" y="412.5" class="tk" text-anchor="end">10</text>
<rect x="76" y="441" width="4" height="1" fill="#000"/>
<text x="73" y="446.5" class="tk" text-anchor="end">5</text>
<rect x="76" y="475" width="4" height="1" fill="#000"/>
<text x="73" y="480.5" class="tk" text-anchor="end">0</text>
<rect x="76" y="509" width="4" height="1" fill="#000"/>
<text x="73" y="514.5" class="tk" text-anchor="end">-5</text>
<rect x="76" y="543" width="4" height="1" fill="#000"/>
<text x="73" y="548.5" class="tk" text-anchor="end">-10</text>
<rect x="80" y="543" width="681" height="1" fill="#000"/>
<rect x="80" y="544" width="1" height="4" fill="#000"/>
<text x="80.5" y="563" class="tk" text-anchor="middle">0</text>
<rect x="156" y="544" width="1" height="4" fill="#000"/>
<text x="156.5" y="563" class="tk" text-anchor="middle">10</text>
<rect x="231" y="544" width="1" height="4" fill="#000"/>
<text x="231.5" y="563" class="tk" text-anchor="middle">20</text>
<rect x="307" y="544" width="1" height="4" fill="#000"/>
<text x="307.5" y="563" class="tk" text-anchor="middle">30</text>
<rect x="382" y="544" width="1" height="4" fill="#000"/>
<text x="382.5" y="563" class="tk" text-anchor="middle">40</text>
<rect x="458" y="544" width="1" height="4" fill="#000"/>
<text x="458.5" y="563" class="tk" text-anchor="middle">50</text>
<rect x="533" y="544" width="1" height="4" fill="#000"/>
<text x="533.5" y="563" class="tk" text-anchor="middle">60</text>
<rect x="609" y="544" width="1" height="4" fill="#000"/>
<text x="609.5" y="563" class="tk" text-anchor="middle">70</text>
<rect x="685" y="544" width="1" height="4" fill="#000"/>
<text x="685.5" y="563" class="tk" text-anchor="middle">80</text>
<text x="400.5" y="586" class="lb" text-anchor="middle">second</text>
<text transform="translate(36,302.8) rotate(-90)" class="lb" text-anchor="middle" letter-spacing="0.2">acceleration</text>
<text x="656" y="587" class="wm" fill="#999">中央氣象署</text>
<text x="93.5" y="123" class="rl">Z Max</text>
<text x="93.5" y="143" class="rl">2.76 gal</text>
<text x="93.5" y="273" class="rl">NS Max</text>
<text x="93.5" y="293" class="rl">9.87 gal</text>
<text x="93.5" y="423" class="rl">EW Max</text>
<text x="93.5" y="443" class="rl">8.40 gal</text>
</svg></body></html>
